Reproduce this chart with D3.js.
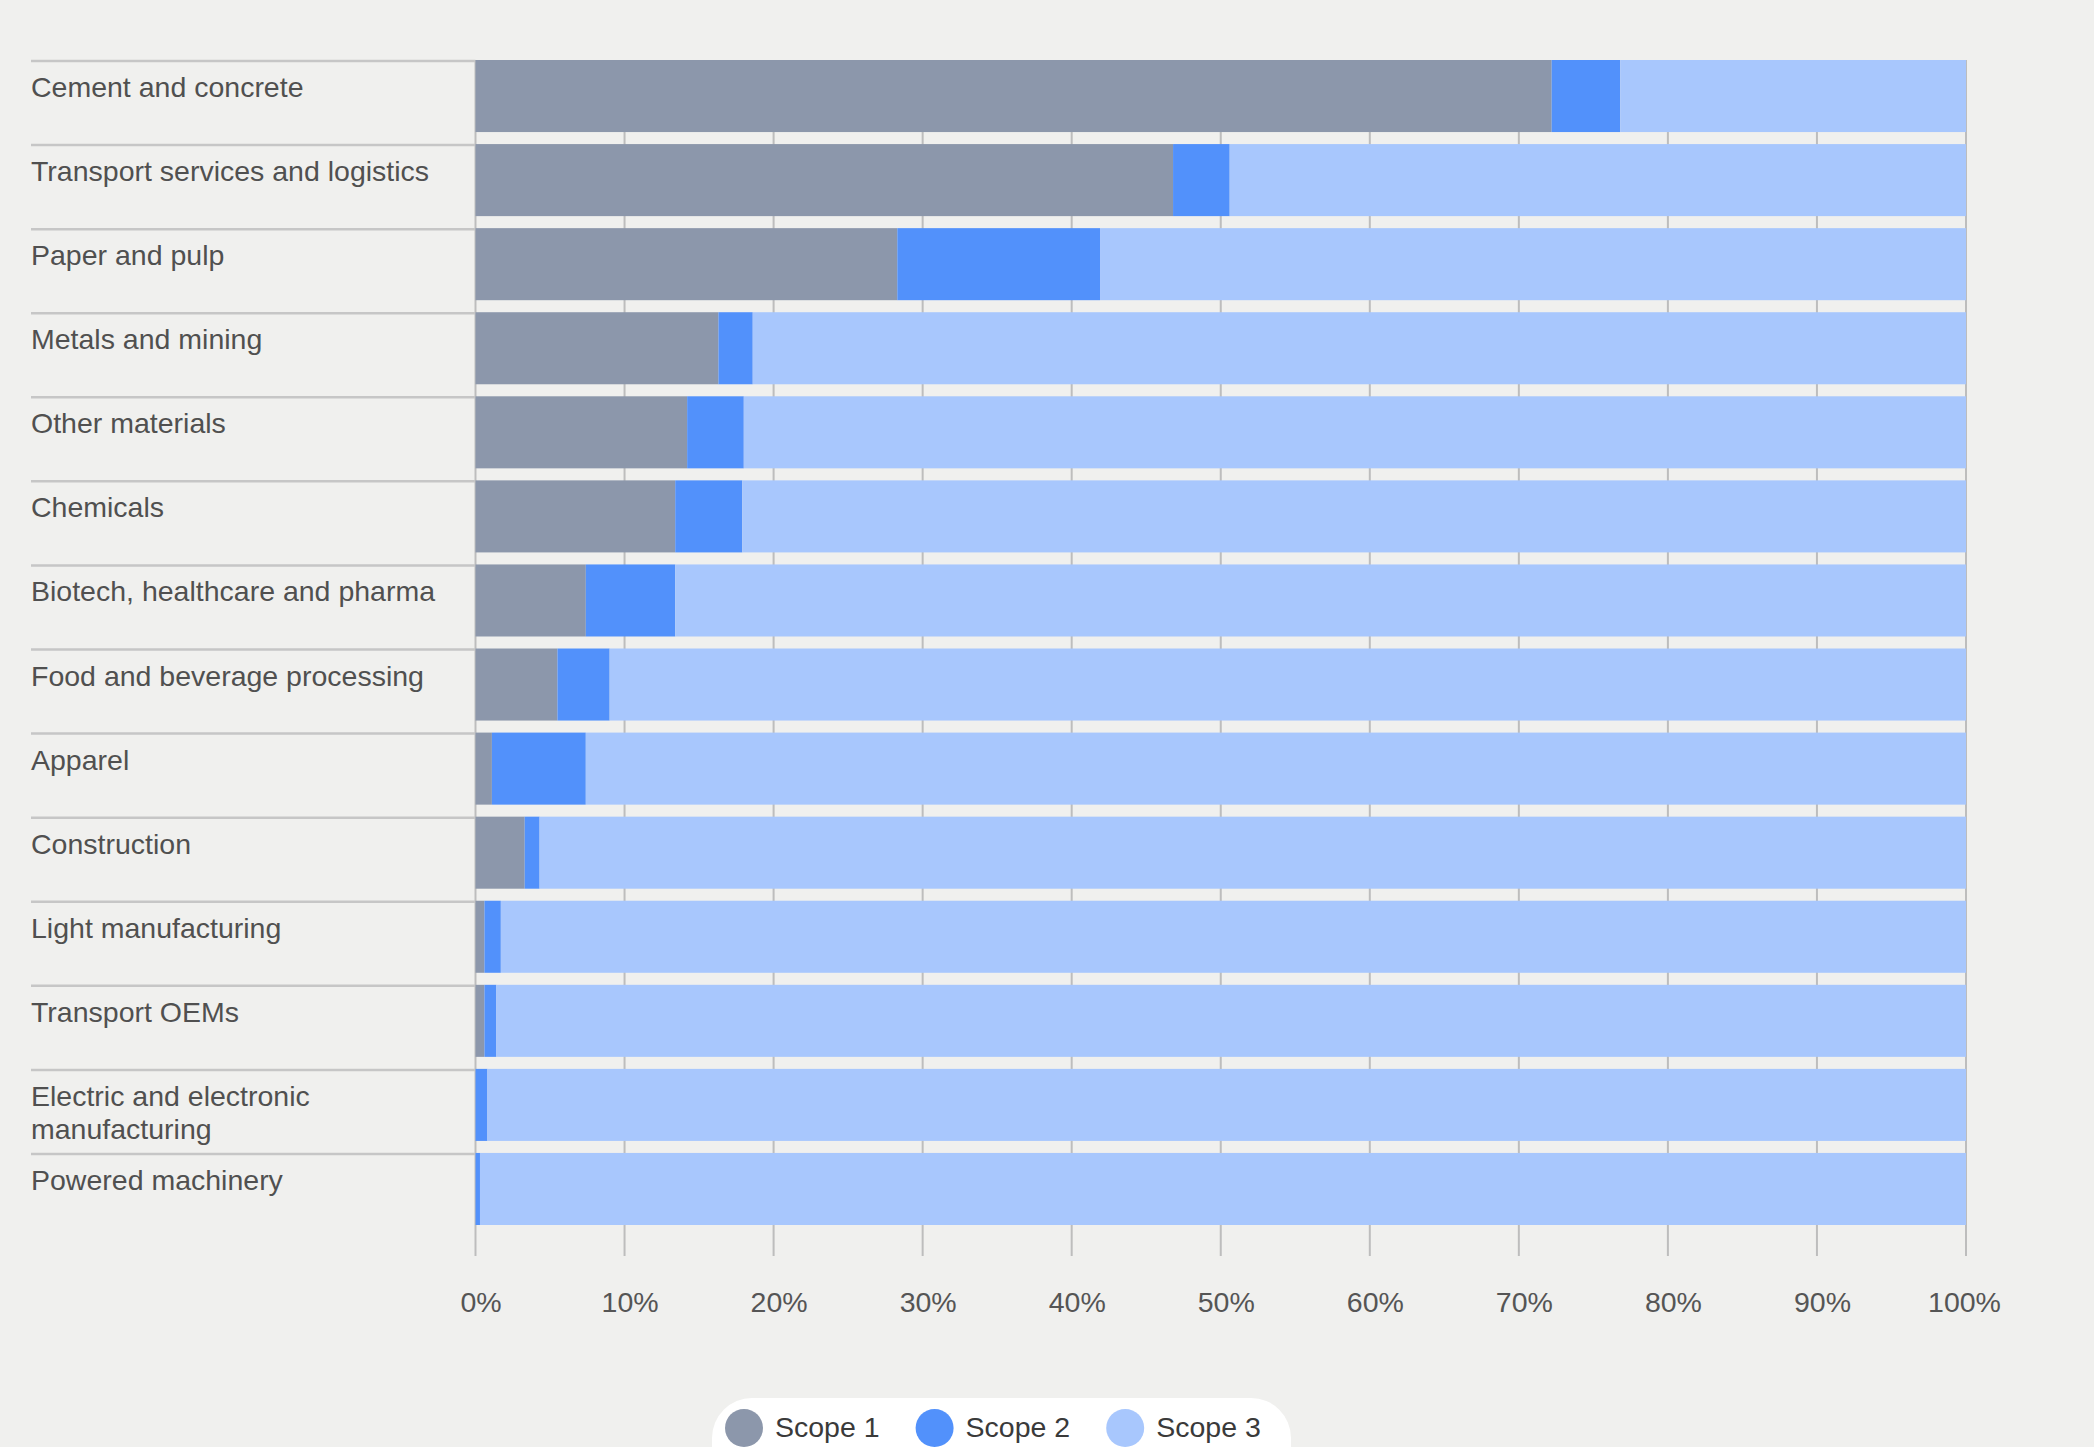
<!DOCTYPE html>
<html>
<head>
<meta charset="utf-8">
<script src="https://cdn.jsdelivr.net/npm/d3@7"></script>
<style>
  body { margin: 0; background: #f0f0ee; }
  svg { display: block; font-family: "Liberation Sans", Arial, sans-serif; }
</style>
</head>
<body>
<div id="chart"></div>
<script>
// sectors, top to bottom
const sectors = [
  "Cement and concrete",
  "Transport services and logistics",
  "Paper and pulp",
  "Metals and mining",
  "Other materials",
  "Chemicals",
  "Biotech, healthcare and pharma",
  "Food and beverage processing",
  "Apparel",
  "Construction",
  "Light manufacturing",
  "Transport OEMs",
  "Electric and electronic|manufacturing",
  "Powered machinery"
]
// share of emissions, %
const scope1 = [72.2, 46.8, 28.3, 16.3, 14.2, 13.4, 7.4, 5.5, 1.1, 3.3, 0.6, 0.6, 0.0, 0.0]
const scope2 = [4.6, 3.8, 13.6, 2.3, 3.8, 4.5, 6.0, 3.5, 6.3, 1.0, 1.1, 0.8, 0.8, 0.3]
const scope3 = scope1.map((d, i) => +(100 - d - scope2[i]).toFixed(1))
const seriesNames = ["Scope 1", "Scope 2", "Scope 3"]
const colors = ["#8c97ab", "#5291fb", "#a8c7fd"]
const ticks = [0, 10, 20, 30, 40, 50, 60, 70, 80, 90, 100]

const W = 2094, H = 1447
const MARGIN = { LEFT: 475.5, RIGHT: 128, TOP: 60, BOTTOM: 222 }

const svg = d3.select("#chart").append("svg")
  .attr("width", W)
  .attr("height", H)

const rows = sectors.map((s, i) => ({ name: s, s1: scope1[i], s2: scope2[i], s3: scope3[i] }))

const x = d3.scaleLinear()
  .domain([0, 100])
  .range([MARGIN.LEFT, W - MARGIN.RIGHT])

const y = d3.scaleBand()
  .domain(sectors)
  .range([MARGIN.TOP, H - MARGIN.BOTTOM])
  .paddingInner(0.143)
  .paddingOuter(0)

const stack = d3.stack().keys(["s1", "s2", "s3"])
const stacked = stack(rows)

// vertical gridlines behind the bars
const plotBottom = y(sectors[sectors.length - 1]) + y.bandwidth()
svg.append("g").selectAll("line")
  .data(ticks)
  .enter().append("line")
  .attr("x1", d => x(d)).attr("x2", d => x(d))
  .attr("y1", MARGIN.TOP).attr("y2", plotBottom + 31)
  .attr("stroke", "#bdbdbd")
  .attr("stroke-width", 2)

// label separators
svg.append("g").selectAll("line")
  .data(sectors)
  .enter().append("line")
  .attr("x1", 31).attr("x2", MARGIN.LEFT)
  .attr("y1", d => y(d) + 1).attr("y2", d => y(d) + 1)
  .attr("stroke", "#c6c6c6")
  .attr("stroke-width", 2.5)

// bars
svg.append("g").selectAll("g")
  .data(stacked)
  .enter().append("g")
  .attr("fill", (d, i) => colors[i])
  .selectAll("rect")
  .data(d => d)
  .enter().append("rect")
  .attr("x", d => x(d[0]))
  .attr("width", d => x(d[1]) - x(d[0]))
  .attr("y", d => y(d.data.name))
  .attr("height", y.bandwidth())

// sector labels
const labels = svg.append("g").selectAll("text")
  .data(sectors)
  .enter().append("text")
  .attr("x", 31)
  .attr("y", d => y(d) + 37)
  .attr("font-size", 28.5)
  .attr("fill", "#505050")
labels.selectAll("tspan")
  .data(d => d.split("|"))
  .enter().append("tspan")
  .attr("x", 31)
  .attr("dy", (d, i) => i === 0 ? 0 : 33)
  .text(d => d)

// x axis
const xAxis = d3.axisBottom(x)
  .tickValues(ticks)
  .tickFormat(d => d + "%")
  .tickSize(0)
  .tickPadding(67)
const axisG = svg.append("g")
  .attr("transform", `translate(0,${plotBottom})`)
  .call(xAxis)
axisG.select(".domain").remove()
axisG.selectAll("text")
  .attr("font-size", 28.5)
  .attr("font-family", "Liberation Sans, Arial, sans-serif")
  .attr("fill", "#555")
  .attr("dx", d => d === 100 ? -2 : 5)

// legend
const legend = svg.append("g")
legend.append("rect")
  .attr("x", 712).attr("y", 1398)
  .attr("width", 579).attr("height", 110)
  .attr("rx", 40)
  .attr("fill", "#ffffff")
let lx = 744
seriesNames.forEach((name, i) => {
  legend.append("circle")
    .attr("cx", lx).attr("cy", 1428).attr("r", 19)
    .attr("fill", colors[i])
  const t = legend.append("text")
    .attr("x", lx + 31).attr("y", 1437)
    .attr("font-size", 28.5)
    .attr("fill", "#3a3a3a")
    .text(name)
  lx = lx + 31 + t.node().getComputedTextLength() + 55
})
</script>
</body>
</html>
